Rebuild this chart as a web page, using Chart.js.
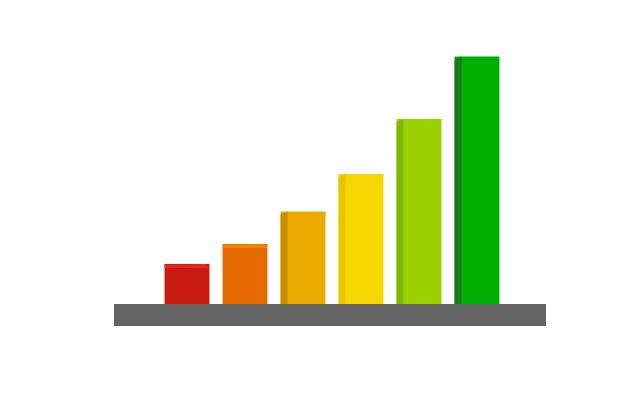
<!DOCTYPE html>
<html>
<head>
<meta charset="utf-8">
<script src="https://cdn.jsdelivr.net/npm/chart.js@4/dist/chart.umd.min.js"></script>
<style>
  html, body { margin: 0; padding: 0; background: #fff; }
  #wrap { width: 640px; height: 400px; }
</style>
</head>
<body>
<div id="wrap"><canvas id="growthChart"></canvas></div>
<script>
// === DATA ===
const categories = ["1", "2", "3", "4", "5", "6"];
const values = [16, 24, 37, 52, 74, 99];

// === STYLE ===
const frontColors = ["#c81a10", "#e56a00", "#ebab00", "#f6d800", "#9ad200", "#00b000"];
const sideColors = [null, null, "#c49000", "#e6c600", "#80b800", "#1c7a1c"];
const topColors = ["#e8241a", "#f58200", null, null, null, null];

// gray floor under the bars + fake 3d faces
const pseudo3d = {
  id: "pseudo3d",
  beforeDatasetsDraw(chart) {
    const { ctx, chartArea } = chart;
    ctx.save();
    ctx.fillStyle = "#646464";
    ctx.fillRect(chartArea.left - 44, chartArea.bottom, chartArea.right - chartArea.left + 84, 22);
    ctx.restore();
  },
  afterDatasetsDraw(chart) {
    const { ctx } = chart;
    const bars = chart.getDatasetMeta(0).data;
    ctx.save();
    bars.forEach((bar, i) => {
      const left = bar.x - bar.width / 2;
      const right = bar.x + bar.width / 2;
      if (sideColors[i]) {
        const d = 7;
        ctx.fillStyle = sideColors[i];
        ctx.beginPath();
        ctx.moveTo(left, bar.y + 3);
        ctx.lineTo(left + d, bar.y);
        ctx.lineTo(left + d, bar.base);
        ctx.lineTo(left, bar.base);
        ctx.closePath();
        ctx.fill();
      }
      if (topColors[i]) {
        ctx.fillStyle = topColors[i];
        ctx.beginPath();
        ctx.moveTo(left, bar.y + 1);
        ctx.lineTo(right - 3, bar.y);
        ctx.lineTo(right, bar.y + 4);
        ctx.lineTo(left, bar.y + 4);
        ctx.closePath();
        ctx.fill();
      }
    });
    ctx.restore();
  },
};

const ctx = document.getElementById("growthChart").getContext("2d");
new Chart(ctx, {
  type: "bar",
  data: {
    labels: categories,
    datasets: [
      {
        data: values,
        backgroundColor: frontColors,
        borderWidth: 0,
        barPercentage: 0.86,
        categoryPercentage: 0.9,
      },
    ],
  },
  options: {
    responsive: true,
    maintainAspectRatio: false,
    animation: false,
    layout: { padding: { left: 158, right: 134, top: 54, bottom: 96 } },
    plugins: {
      legend: { display: false },
      tooltip: { enabled: false },
    },
    scales: {
      x: { display: false },
      y: { display: false, min: 0, max: 100 },
    },
  },
  plugins: [pseudo3d],
});
</script>
</body>
</html>
